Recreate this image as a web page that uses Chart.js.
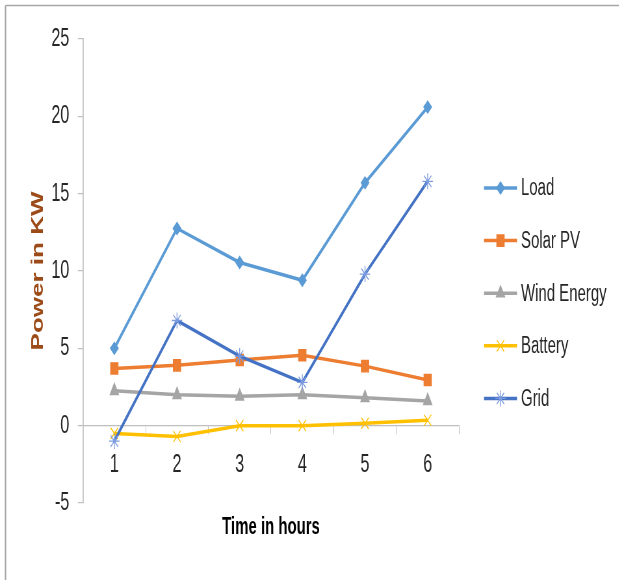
<!DOCTYPE html>
<html>
<head>
<meta charset="utf-8">
<script src="https://cdn.jsdelivr.net/npm/chart.js@4/dist/chart.umd.min.js"></script>
<style>
    html, body { margin: 0; padding: 0; background: #fff; overflow: hidden; }
    #outer { width: 619px; height: 580px; overflow: hidden; }
    /* the original picture is squeezed sideways; draw wide, then squeeze */
    #wrap { position: relative; width: 952px; height: 580px; transform: scaleX(0.65); transform-origin: 0 0; }
</style>
</head>
<body>
<div id="outer"><div id="wrap"><canvas id="powerChart"></canvas></div></div>
<script>
// Power flow over six hours
const hours = ['1', '2', '3', '4', '5', '6'];
const loadKw = [5.0, 12.75, 10.55, 9.4, 15.7, 20.6];
const solarKw = [3.7, 3.9, 4.25, 4.55, 3.85, 2.95];
const windKw = [2.25, 2.0, 1.9, 2.0, 1.8, 1.6];
const batteryKw = [-0.5, -0.7, 0, 0, 0.15, 0.35];
const gridKw = [-1.0, 6.8, 4.5, 2.8, 9.8, 15.8];
const yTicks = [-5, 0, 5, 10, 15, 20, 25];

const SQUEEZE = 0.65;
const sx = x => x / SQUEEZE;   // page x -> canvas x
const font = "'Liberation Sans', Arial, sans-serif";
const axisGrey = '#BFBFBF';
const textCol = '#262626';

function series(label, data, color, style, radius, extra) {
    return Object.assign({
        label: label,
        data: data,
        borderColor: color,
        backgroundColor: color,
        pointBackgroundColor: color,
        pointBorderColor: color,
        pointStyle: style,
        pointRadius: radius,
        pointHoverRadius: radius,
        borderWidth: 3.5,
        pointBorderWidth: 1.3,
        tension: 0,
        fill: false
    }, extra || {});
}

// Frame: top and left edges only, as in the cropped original
const framePlugin = {
    id: 'frame',
    beforeDraw(chart) {
        const c = chart.ctx;
        c.save();
        c.fillStyle = '#fff';
        c.fillRect(0, 0, chart.width, chart.height);
        c.strokeStyle = '#A6A6A6';
        c.lineWidth = 1.5;
        c.beginPath();
        c.moveTo(sx(5.5), 5.5);
        c.lineTo(chart.width, 5.5);
        c.stroke();
        c.lineWidth = 2.3;
        c.beginPath();
        c.moveTo(sx(5.5), chart.height);
        c.lineTo(sx(5.5), 5.5);
        c.stroke();
        c.restore();
    }
};

// Legend on the right: line with marker, like the spreadsheet legend
const sideLegend = {
    id: 'sideLegend',
    afterDraw(chart) {
        const c = chart.ctx;
        const top = 188, gap = 52.6;
        c.save();
        chart.data.datasets.forEach(function(ds, i) {
            const y = top + i * gap;
            c.strokeStyle = ds.borderColor;
            c.lineWidth = 3.5;
            c.beginPath();
            c.moveTo(sx(484), y);
            c.lineTo(sx(517), y);
            c.stroke();
            c.fillStyle = ds.pointBackgroundColor;
            c.strokeStyle = ds.pointBorderColor;
            c.lineWidth = ds.pointBorderWidth;
            Chart.helpers.drawPoint(c, { pointStyle: ds.pointStyle, radius: ds.pointRadius, borderWidth: ds.pointBorderWidth, rotation: 0 }, sx(500.5), y);
            c.fillStyle = textCol;
            c.font = '23px ' + font;
            c.textAlign = 'left';
            c.textBaseline = 'middle';
            c.fillText(ds.label, sx(521), y + 1);
        });
        c.restore();
    }
};

// X axis title, centred under the plot
const xTitle = {
    id: 'xTitle',
    afterDraw(chart) {
        const c = chart.ctx;
        const a = chart.chartArea;
        c.save();
        c.fillStyle = '#000';
        c.font = 'bold 23px ' + font;
        c.textAlign = 'center';
        c.textBaseline = 'middle';
        c.fillText('Time in hours', (a.left + a.right) / 2, 528);
        c.restore();
    }
};

new Chart(document.getElementById('powerChart'), {
    type: 'line',
    data: {
        labels: hours,
        datasets: [
            series('Load', loadKw, '#5B9BD5', 'rectRot', 6, { order: 5 }),
            series('Solar PV', solarKw, '#ED7D31', 'rect', 8, { order: 4 }),
            series('Wind Energy', windKw, '#A5A5A5', 'triangle', 7.5, { order: 3 }),
            series('Battery', batteryKw, '#FFC000', 'crossRot', 8, { order: 2 }),
            series('Grid', gridKw, '#4472C4', 'star', 8, { order: 1, pointBorderColor: '#7B9BE0' })
        ]
    },
    options: {
        responsive: true,
        maintainAspectRatio: false,
        animation: false,
        layout: {
            padding: { left: 0, right: 952 - sx(459), top: 39, bottom: 77 }
        },
        plugins: {
            legend: { display: false },
            tooltip: { enabled: false }
        },
        scales: {
            x: {
                position: { y: 0 },
                offset: true,
                grid: {
                    offset: true,
                    drawOnChartArea: false,
                    drawTicks: true,
                    tickLength: 8,
                    color: axisGrey
                },
                border: { display: true, color: axisGrey, width: 1.2 },
                ticks: {
                    padding: 16,
                    color: textCol,
                    font: { family: font, size: 25 },
                    maxRotation: 0
                }
            },
            y: {
                min: -5,
                max: 25,
                afterFit(scale) { scale.width = sx(83); },
                afterBuildTicks(scale) {
                    scale.ticks = yTicks.map(v => ({ value: v }));
                },
                grid: {
                    drawOnChartArea: false,
                    drawTicks: true,
                    tickLength: 8,
                    color: axisGrey,
                    lineWidth: 1.2
                },
                border: { display: true, color: axisGrey, width: 1.8 },
                ticks: {
                    padding: 13,
                    color: textCol,
                    font: { family: font, size: 25 }
                },
                title: {
                    display: true,
                    text: 'Power in KW',
                    color: '#9C4A17',
                    font: { family: font, size: 26, weight: 'bold' },
                    padding: { top: sx(38) - 15.6, bottom: 0 }
                }
            }
        }
    },
    plugins: [framePlugin, sideLegend, xTitle]
});
</script>
</body>
</html>
